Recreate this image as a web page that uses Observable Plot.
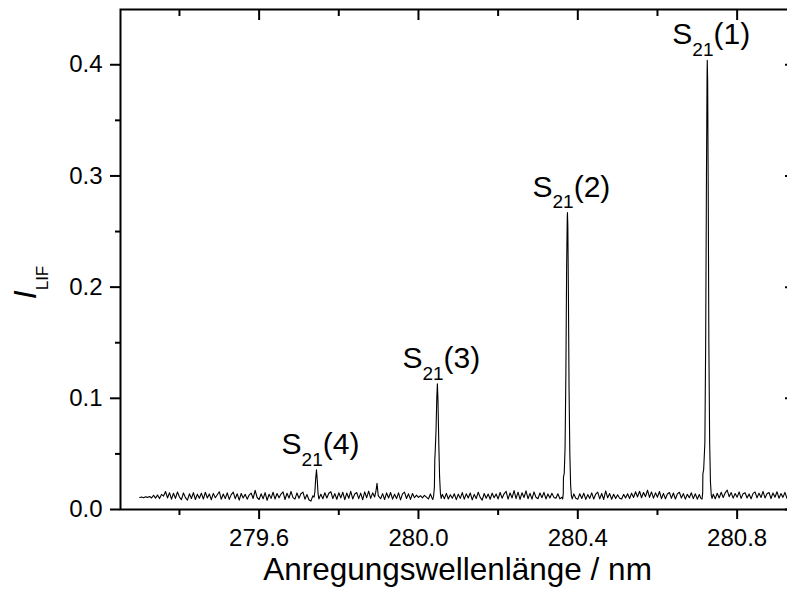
<!DOCTYPE html>
<html>
<head>
<meta charset="utf-8">
<script src="https://cdn.jsdelivr.net/npm/d3@7"></script>
<script src="https://cdn.jsdelivr.net/npm/@observablehq/plot@0.6"></script>
<style>
  html, body { margin: 0; padding: 0; background: #fff; overflow: hidden; }
  #chart svg { max-width: none !important; font-family: "Liberation Sans", Arial, sans-serif; }
</style>
</head>
<body>
<div id="chart"></div>
<script>
// LIF excitation spectrum: [wavelength / nm, I_LIF]
const spectrum = [
  [279.300,0.0108],[279.305,0.0112],[279.310,0.0106],[279.315,0.0114],[279.320,0.0109],
  [279.325,0.0117],[279.330,0.0104],[279.335,0.0128],[279.340,0.0102],[279.345,0.0131],
  [279.350,0.0098],[279.355,0.0136],[279.360,0.0121],[279.365,0.0162],[279.370,0.0104],
  [279.375,0.0151],[279.380,0.0093],[279.385,0.0146],[279.390,0.0100],[279.395,0.0158],
  [279.400,0.0112],[279.405,0.0089],[279.410,0.0149],[279.415,0.0107],[279.420,0.0085],
  [279.425,0.0141],[279.430,0.0099],[279.435,0.0152],[279.440,0.0090],[279.445,0.0138],
  [279.450,0.0101],[279.455,0.0147],[279.460,0.0094],[279.465,0.0155],[279.470,0.0103],
  [279.475,0.0140],[279.480,0.0088],[279.485,0.0145],[279.490,0.0106],[279.495,0.0133],
  [279.500,0.0160],[279.505,0.0092],[279.510,0.0139],[279.515,0.0098],[279.520,0.0150],
  [279.525,0.0091],[279.530,0.0134],[279.535,0.0157],[279.540,0.0097],[279.545,0.0142],
  [279.550,0.0084],[279.555,0.0144],[279.560,0.0103],[279.565,0.0137],[279.570,0.0093],
  [279.575,0.0130],[279.580,0.0148],[279.585,0.0099],[279.590,0.0172],[279.595,0.0108],
  [279.600,0.0090],[279.605,0.0141],[279.610,0.0096],[279.615,0.0152],[279.620,0.0083],
  [279.625,0.0137],[279.630,0.0100],[279.635,0.0155],[279.640,0.0094],[279.645,0.0144],
  [279.650,0.0105],[279.655,0.0139],[279.660,0.0159],[279.665,0.0090],[279.670,0.0146],
  [279.675,0.0102],[279.680,0.0162],[279.685,0.0107],[279.690,0.0094],[279.695,0.0149],
  [279.700,0.0101],[279.705,0.0142],[279.710,0.0156],[279.715,0.0093],[279.720,0.0135],
  [279.725,0.0088],[279.730,0.0075],[279.735,0.0124],
  // S21(4)
  [279.738,0.0110],[279.740,0.0160],[279.742,0.0280],[279.744,0.0357],[279.746,0.0260],
  [279.748,0.0140],[279.750,0.0095],
  [279.755,0.0138],[279.760,0.0097],[279.765,0.0151],[279.770,0.0104],[279.775,0.0146],
  [279.780,0.0160],[279.785,0.0099],[279.790,0.0143],[279.795,0.0092],[279.800,0.0150],
  [279.805,0.0105],[279.810,0.0155],[279.815,0.0089],[279.820,0.0148],[279.825,0.0101],
  [279.830,0.0163],[279.835,0.0095],[279.840,0.0140],[279.845,0.0153],[279.850,0.0098],
  [279.855,0.0147],[279.860,0.0088],[279.865,0.0159],[279.870,0.0106],[279.875,0.0165],
  [279.880,0.0100],[279.885,0.0150],[279.890,0.0112],[279.893,0.0160],[279.896,0.0235],
  [279.899,0.0125],[279.905,0.0097],[279.910,0.0143],[279.915,0.0090],[279.920,0.0149],
  [279.925,0.0104],[279.930,0.0153],[279.935,0.0093],[279.940,0.0137],[279.945,0.0098],
  [279.950,0.0150],[279.955,0.0086],[279.960,0.0140],[279.965,0.0157],[279.970,0.0099],
  [279.975,0.0141],[279.980,0.0091],[279.985,0.0144],[279.990,0.0106],[279.995,0.0129],
  [280.000,0.0109],[280.005,0.0124],[280.010,0.0104],[280.015,0.0127],[280.020,0.0112],
  [280.025,0.0095],[280.030,0.0140],[280.034,0.0104],
  // S21(3)
  [280.036,0.0090],[280.038,0.0120],[280.040,0.0200],[280.041,0.0450],[280.042,0.0520],
  [280.044,0.0700],[280.046,0.1000],[280.0475,0.1130],[280.049,0.0980],[280.051,0.0600],
  [280.053,0.0300],[280.055,0.0150],[280.057,0.0100],
  [280.060,0.0136],[280.065,0.0097],[280.070,0.0145],[280.075,0.0094],[280.080,0.0133],
  [280.085,0.0102],[280.090,0.0142],[280.095,0.0089],[280.100,0.0138],[280.105,0.0100],
  [280.110,0.0152],[280.115,0.0093],[280.120,0.0141],[280.125,0.0103],[280.130,0.0149],
  [280.135,0.0087],[280.140,0.0136],[280.145,0.0098],[280.150,0.0155],[280.155,0.0109],
  [280.160,0.0084],[280.165,0.0144],[280.170,0.0101],[280.175,0.0139],[280.180,0.0092],
  [280.185,0.0147],[280.190,0.0106],[280.195,0.0140],[280.200,0.0095],[280.205,0.0153],
  [280.210,0.0102],[280.215,0.0141],[280.220,0.0164],[280.225,0.0094],[280.230,0.0149],
  [280.235,0.0104],[280.240,0.0170],[280.245,0.0098],[280.250,0.0156],[280.255,0.0091],
  [280.260,0.0151],[280.265,0.0108],[280.270,0.0168],[280.275,0.0097],[280.280,0.0145],
  [280.285,0.0093],[280.290,0.0158],[280.295,0.0110],[280.300,0.0097],[280.305,0.0148],
  [280.310,0.0106],[280.315,0.0154],[280.320,0.0095],[280.325,0.0140],[280.330,0.0103],
  [280.335,0.0146],[280.340,0.0109],[280.345,0.0101],[280.350,0.0141],[280.355,0.0096],
  // S21(2)
  [280.360,0.0110],[280.362,0.0095],[280.3635,0.0140],[280.364,0.0290],[280.366,0.0330],
  [280.368,0.0550],[280.370,0.1200],[280.372,0.2200],[280.3735,0.2620],[280.374,0.2670],
  [280.375,0.2550],[280.3765,0.1900],[280.378,0.1100],[280.380,0.0500],[280.382,0.0220],
  [280.384,0.0120],[280.386,0.0095],
  [280.390,0.0140],[280.395,0.0102],[280.400,0.0093],[280.405,0.0142],[280.410,0.0099],
  [280.415,0.0147],[280.420,0.0091],[280.425,0.0134],[280.430,0.0100],[280.435,0.0150],
  [280.440,0.0094],[280.445,0.0139],[280.450,0.0157],[280.455,0.0096],[280.460,0.0144],
  [280.465,0.0090],[280.470,0.0167],[280.475,0.0105],[280.480,0.0143],[280.485,0.0092],
  [280.490,0.0137],[280.495,0.0098],[280.500,0.0133],[280.505,0.0102],[280.510,0.0095],
  [280.515,0.0136],[280.520,0.0103],[280.525,0.0142],[280.530,0.0099],[280.535,0.0147],
  [280.540,0.0108],[280.545,0.0160],[280.550,0.0113],[280.555,0.0164],[280.560,0.0106],
  [280.565,0.0153],[280.570,0.0115],[280.575,0.0174],[280.580,0.0109],[280.585,0.0158],
  [280.590,0.0102],[280.595,0.0150],[280.600,0.0111],[280.605,0.0162],[280.610,0.0097],
  [280.615,0.0145],[280.620,0.0096],[280.625,0.0139],[280.630,0.0153],[280.635,0.0100],
  [280.640,0.0148],[280.645,0.0094],[280.650,0.0140],[280.655,0.0155],[280.660,0.0103],
  [280.665,0.0143],[280.670,0.0093],[280.675,0.0137],[280.680,0.0106],[280.685,0.0151],
  [280.690,0.0098],[280.695,0.0142],[280.700,0.0093],[280.705,0.0135],[280.709,0.0100],
  // S21(1)
  [280.712,0.0095],[280.7135,0.0150],[280.714,0.0320],[280.716,0.0360],[280.719,0.0600],
  [280.721,0.1500],[280.723,0.3000],[280.7245,0.3900],[280.725,0.4040],[280.726,0.3850],
  [280.7275,0.2800],[280.729,0.1500],[280.731,0.0600],[280.733,0.0250],[280.735,0.0130],
  [280.737,0.0100],
  [280.740,0.0138],[280.745,0.0096],[280.750,0.0146],[280.755,0.0104],[280.760,0.0155],
  [280.765,0.0108],[280.770,0.0149],[280.775,0.0175],[280.780,0.0115],[280.785,0.0152],
  [280.790,0.0102],[280.795,0.0144],[280.800,0.0111],[280.805,0.0158],[280.810,0.0100],
  [280.815,0.0142],[280.820,0.0151],[280.825,0.0103],[280.830,0.0140],[280.835,0.0096],
  [280.840,0.0145],[280.845,0.0157],[280.850,0.0105],[280.855,0.0147],[280.860,0.0108],
  [280.865,0.0163],[280.870,0.0104],[280.875,0.0142],[280.880,0.0153],[280.885,0.0099],
  [280.890,0.0149],[280.895,0.0110],[280.900,0.0160],[280.905,0.0102],[280.910,0.0143],
  [280.915,0.0109],[280.920,0.0154],[280.925,0.0101],[280.930,0.0146],[280.935,0.0107],
  [280.940,0.0139]
];

// assigned transitions: S21(n) at the given excitation wavelength
const peakNm = [280.725, 280.374, 280.0475, 279.744];
const peakBand = [1, 2, 3, 4];

const xMajor = [279.6, 280.0, 280.4, 280.8];
const xMinor = [279.4, 279.8, 280.2, 280.6];
const yMajor = [0.0, 0.1, 0.2, 0.3, 0.4];
const yMinor = [0.05, 0.15, 0.25, 0.35];

const xTitle = "Anregungswellenlänge / nm";
const yTitle = ["I", "LIF"];

// label anchors sit on top of the strongest point near each transition
const peaks = peakNm.map((nm, i) => ({
  nm,
  top: d3.max(spectrum.filter(d => Math.abs(d[0] - nm) < 0.006), d => d[1]),
  band: peakBand[i]
}));

const fmt = d => d.toFixed(1);

const chart = Plot.plot({
  width: 794,
  height: 592,
  marginLeft: 120,
  marginRight: 0,
  marginTop: 9,
  marginBottom: 83,
  style: {fontFamily: "'Liberation Sans', Arial, sans-serif", color: "black", background: "white"},
  x: {domain: [279.252, 280.944]},
  y: {domain: [0, 0.4497]},
  marks: [
    Plot.frame({stroke: "black", strokeWidth: 2}),
    // bottom axis
    Plot.axisX({anchor: "bottom", ticks: xMajor, tickSize: 10, tickPadding: 9, tickFormat: fmt,
                fontSize: 24, strokeWidth: 2, label: null}),
    Plot.axisX({anchor: "bottom", ticks: xMinor, tickSize: 6, strokeWidth: 2, fill: "none", label: null}),
    // top axis, ticks pointing inward
    Plot.axisX({anchor: "top", ticks: xMajor, tickSize: 10, dy: 10, strokeWidth: 2, fill: "none", label: null}),
    Plot.axisX({anchor: "top", ticks: xMinor, tickSize: 6, dy: 6, strokeWidth: 2, fill: "none", label: null}),
    // left axis
    Plot.axisY({anchor: "left", ticks: yMajor, tickSize: 10, tickPadding: 8, tickFormat: fmt,
                fontSize: 24, strokeWidth: 2, label: null}),
    Plot.axisY({anchor: "left", ticks: yMinor, tickSize: 5, strokeWidth: 2, fill: "none", label: null}),
    // right axis, ticks pointing inward
    Plot.axisY({anchor: "right", ticks: yMajor, tickSize: 10, dx: -10, strokeWidth: 2, fill: "none", label: null}),
    Plot.axisY({anchor: "right", ticks: yMinor, tickSize: 5, dx: -5, strokeWidth: 2, fill: "none", label: null}),
    // spectrum
    Plot.line(spectrum, {x: d => d[0], y: d => d[1], stroke: "black", strokeWidth: 1.1}),
    // transition labels
    Plot.text(peaks, {x: "nm", y: "top", text: d => `S21(${d.band})`, dx: 4, dy: -16,
                      lineAnchor: "bottom", textAnchor: "middle", fontSize: 30, fill: "black"}),
    // axis titles
    Plot.text([xTitle], {frameAnchor: "bottom", lineAnchor: "top", dy: 48, fontSize: 31.5, fill: "black"}),
    Plot.text([yTitle.join("")], {frameAnchor: "left", rotate: -90, dx: -85, dy: 23,
                                  lineAnchor: "bottom", textAnchor: "middle", fontSize: 32, fill: "black"})
  ]
});

// subscripts: S21(n) and I_LIF
d3.select(chart).selectAll("text").each(function () {
  const t = d3.select(this);
  const s = t.text();
  let m;
  if ((m = s.match(/^S(21)(\(\d\))$/))) {
    t.text(null);
    t.append("tspan").text("S");
    t.append("tspan").attr("dy", 11.7).attr("font-size", 19).text(m[1]);
    t.append("tspan").attr("dy", -11.7).text(m[2]);
  } else if (s === yTitle.join("")) {
    t.text(null);
    t.append("tspan").attr("font-style", "italic").text(yTitle[0]);
    t.append("tspan").attr("dy", 12).attr("font-size", 17).text(yTitle[1]);
  }
});

document.getElementById("chart").appendChild(chart);
</script>
</body>
</html>
